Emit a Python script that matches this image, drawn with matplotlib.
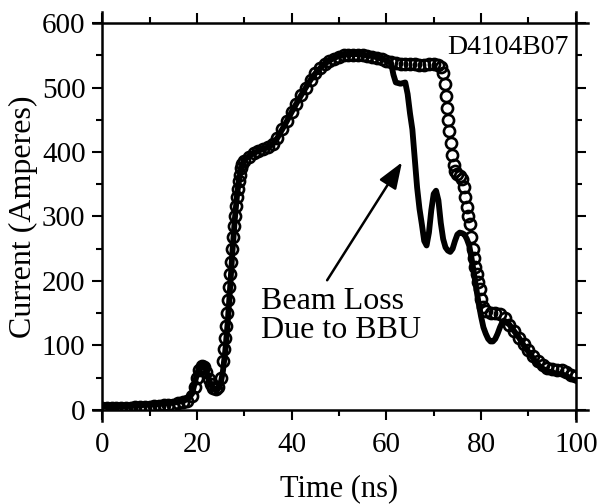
import numpy as np
import matplotlib
matplotlib.use("Agg")
import matplotlib.pyplot as plt

plt.rcParams['font.family'] = ['Liberation Serif', 'DejaVu Serif']

# current trace with open circles (no beam loss)
t_circ = [0, 1, 2, 3, 4, 5, 6, 7, 8, 9, 10, 11, 12, 13, 14, 15, 16, 17, 18, 19,
          19.5, 20, 20.5, 21, 21.5, 22, 22.5, 23, 23.5, 24, 24.5, 25, 25.5, 25.8,
          26, 26.2, 26.4, 26.6, 26.8, 27, 27.2, 27.4, 27.6, 27.8, 28, 28.2,
          28.4, 28.6, 28.8, 29, 29.3, 29.6, 30,
          31, 32, 33, 34, 35, 36, 37, 38, 39, 40, 41, 42, 43, 44, 45, 46, 47,
          48, 49, 50, 51, 52, 53, 54, 55, 56, 57, 58, 59, 60, 61, 62, 63, 64,
          65, 66, 67, 68, 69, 70, 71, 71.5, 72, 72.3, 72.6, 72.9, 73.1, 73.3,
          73.6, 73.9, 74.2, 74.6, 75, 75.5, 76, 76.4, 76.7, 77, 77.3, 77.6,
          77.9, 78.2, 78.5, 78.8, 79.1, 79.4, 79.7, 80, 80.4, 81, 82, 83, 84,
          85, 86, 87, 88, 89, 90, 91, 92, 93, 94, 95, 96, 97, 98, 99, 100]
i_circ = [3, 2, 2, 3, 2, 3, 3, 4, 4, 5, 5, 6, 6, 7, 7, 8, 10, 12, 14, 22,
          35, 50, 62, 68, 66, 58, 48, 40, 34, 32, 36, 50, 75, 95,
          112, 130, 150, 170, 190, 210, 230, 250, 268, 285, 300, 316,
          330, 343, 355, 365, 375, 381, 386,
          392, 398, 402, 405, 408, 412, 422, 435, 448, 462, 474, 488, 500,
          512, 522, 530, 536, 541, 545, 548, 550, 551, 551, 551, 550, 549,
          548, 546, 544, 542, 540, 538, 537, 537, 536, 536, 535, 535, 536,
          536, 535, 532, 522, 505, 487, 468, 450, 432, 414, 396, 380, 370,
          366, 363, 358, 345, 330, 315, 300, 288, 268, 250, 235, 222, 210,
          198, 188, 172, 160, 154, 150, 150, 148, 142, 132, 122, 112, 102,
          92, 83, 75, 69, 65, 63, 62, 61, 58, 54, 52]

# current trace with beam loss (solid line)
t_line = [0, 2, 4, 6, 8, 10, 12, 14, 16, 17, 18, 19, 19.5, 20, 20.5, 21, 21.5,
          22, 22.5, 23, 23.5, 24, 24.5, 25, 25.5, 26, 26.5, 27, 27.5, 28, 28.5,
          29, 29.5, 30, 31, 32, 33, 34, 35, 36, 37, 38, 39, 40, 41, 42, 43, 44,
          45, 46, 47, 48, 49, 50, 51, 52, 53, 54, 55, 56, 57, 58, 59, 60, 61,
          61.5, 62, 63, 64, 64.5, 65, 65.5, 66, 66.5, 67, 67.5, 68, 68.5, 69,
          69.5, 70, 70.5, 71, 71.5, 72, 72.5, 73, 73.5, 74, 74.5, 75, 75.5, 76,
          76.5, 77, 77.5, 78, 78.5, 79, 79.5, 80, 80.5, 81, 81.5, 82, 82.5, 83,
          83.5, 84, 84.5, 85, 86, 87, 88, 89, 90, 91, 92, 93, 94, 95, 96, 97,
          98, 99, 100]
i_line = [5, 4, 5, 6, 7, 8, 9, 10, 12, 14, 16, 25, 40, 55, 66, 72, 70,
          60, 48, 38, 32, 31, 33, 40, 60, 92, 135, 188, 245, 295, 335,
          362, 378, 388, 394, 398, 402, 405, 407, 412, 422, 435, 448, 462,
          475, 488, 500, 512, 522, 530, 537, 542, 546, 549, 551, 552, 552,
          552, 551, 550, 549, 547, 545, 542, 538, 520, 508, 506, 508, 490,
          460, 435, 390, 345, 312, 288, 262, 255, 275, 310, 335, 340, 325,
          290, 265, 252, 247, 245, 250, 262, 272, 275, 274, 272, 265, 255,
          235, 212, 188, 165, 145, 128, 118, 110, 106, 106, 110, 118, 128,
          136, 138, 132, 122, 112, 100, 90, 80, 70, 64, 60, 58, 56, 55, 53,
          48, 45]

xticks = [0, 20, 40, 60, 80, 100]
yticks = [0, 100, 200, 300, 400, 500, 600]

fig = plt.figure(figsize=(6.01, 5.04), dpi=100)
ax = fig.add_axes([0.170, 0.187, 0.788, 0.767])

ax.plot(t_circ, i_circ, 'o', ms=8, mfc='none', mec='black', mew=1.9, zorder=2)
ax.plot(t_line, i_line, '-', color='black', lw=4.2, zorder=3)

ax.set_xlim(0, 100)
ax.set_ylim(0, 600)
ax.set_xticks(xticks)
ax.set_yticks(yticks)
ax.set_xticks(np.arange(0, 101, 10), minor=True)
ax.set_yticks(np.arange(0, 601, 50), minor=True)
ax.tick_params(which='both', direction='out', top=True, right=True,
               width=1.5, labelsize=21)
ax.tick_params(axis='x', pad=9)
ax.tick_params(axis='y', pad=5)
ax.tick_params(which='major', length=7)
ax.tick_params(which='minor', length=4.5)

# axes lines cross a little at the corners
for s in ['left', 'right']:
    ax.spines[s].set_bounds(-17, 617)
    ax.spines[s].set_linewidth(1.8)
for s in ['top', 'bottom']:
    ax.spines[s].set_bounds(-2, 102.5)
    ax.spines[s].set_linewidth(1.8)

ax.set_xlabel('Time (ns)', fontsize=22, labelpad=12)
ax.set_ylabel('Current (Amperes)', fontsize=23, labelpad=3)

ax.text(0.985, 0.938, 'D4104B07', transform=ax.transAxes, ha='right',
        va='center', fontsize=20)
ax.text(33.6, 146, 'Beam Loss\nDue to BBU', fontsize=23, ha='left',
        va='center', linespacing=1.0)
ax.annotate('', xy=(63.3, 384), xytext=(47.5, 201),
            arrowprops=dict(arrowstyle='-|>,head_length=1.6,head_width=0.6',
                            color='black', lw=1.8, shrinkA=0, shrinkB=0))

fig.savefig('out.png', dpi=100)
